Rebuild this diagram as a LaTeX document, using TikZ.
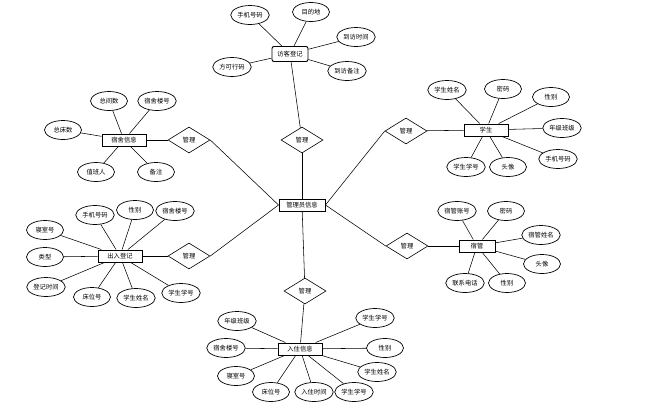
\documentclass[tikz,border=0pt]{standalone}
\usepackage{fontspec}
\setmainfont{Noto Sans CJK SC}
\usetikzlibrary{shapes.geometric}

\begin{document}
\begin{tikzpicture}[
            x = 1pt, y = -1pt, % pixel grid, y downwards
            font = \fontsize{6.3}{7}\selectfont,
            line width = 0.55pt % line style
        ]

        \tikzstyle{entity}=[
            draw = black,
            line width = 0.95pt,
            fill = white,
            minimum width = 44pt,
            minimum height = 12pt,
            inner sep = 1pt
        ]
        \tikzstyle{attr}=[
            ellipse,
            draw = black,
            line width = 0.7pt,
            fill = white,
            minimum width = 37pt,
            minimum height = 19pt,
            inner sep = 1pt
        ]
        \tikzstyle{rel}=[
            diamond,
            draw = black,
            line width = 0.6pt,
            fill = white,
            aspect = 1.7,
            minimum width = 42pt,
            minimum height = 26pt,
            inner sep = 0pt
        ]

    \useasboundingbox (0,0) rectangle (649,408);

	% centre
	\node[entity, minimum width = 46pt] (admin) at (302,205) {管理员信息};
	\node[rel] (r1) at (302,140) {管理};
	\node[rel] (r2) at (189,140) {管理};
	\node[rel] (r3) at (189,256) {管理};
	\node[rel] (r4) at (305,291) {管理};
	\node[rel] (r5) at (406,131) {管理};
	\node[rel] (r6) at (407,246) {管理};

	% visitors
	\node[entity, rounded corners = 2pt, minimum width = 36pt, minimum height = 15pt] (visit) at (290,54) {访客登记};
	\node[attr] (v1) at (250,15) {手机号码};
	\node[attr] (v2) at (311,12) {目的地};
	\node[attr] (v3) at (356,37) {到访时间};
	\node[attr] (v4) at (347,71) {到访备注};
	\node[attr] (v5) at (232,67) {方可行码};

	% dorm info
	\node[entity] (dorm) at (124,140) {宿舍信息};
	\node[attr] (d1) at (109,101) {总间数};
	\node[attr] (d2) at (157,101) {宿舍楼号};
	\node[attr] (d3) at (63,130) {总床数};
	\node[attr] (d4) at (96,172) {值班人};
	\node[attr] (d5) at (156,172) {备注};

	% in/out register
	\node[entity] (inout) at (120,256) {出入登记};
	\node[attr] (o1) at (95,215) {手机号码};
	\node[attr] (o2) at (135,210) {性别};
	\node[attr] (o3) at (175,211) {宿舍楼号};
	\node[attr] (o4) at (45,230) {寝室号};
	\node[attr] (o5) at (45,257) {类型};
	\node[attr] (o6) at (46,287) {登记时间};
	\node[attr] (o7) at (92,297) {床位号};
	\node[attr] (o8) at (136,298) {学生姓名};
	\node[attr] (o9) at (181,293) {学生学号};

	% check-in
	\node[entity] (stay) at (300,349) {入住信息};
	\node[attr] (c1) at (237,321) {年级班级};
	\node[attr] (c2) at (226,348) {宿舍楼号};
	\node[attr] (c3) at (236,376) {寝室号};
	\node[attr] (c4) at (271,392) {床位号};
	\node[attr] (c5) at (314,392) {入住时间};
	\node[attr] (c6) at (354,392) {学生学号};
	\node[attr] (c7) at (375,318) {学生学号};
	\node[attr] (c8) at (385,348) {性别};
	\node[attr] (c9) at (377,372) {学生姓名};

	% student
	\node[entity] (stu) at (486,130) {学生};
	\node[attr] (s1) at (447,90) {学生姓名};
	\node[attr] (s2) at (503,89) {密码};
	\node[attr] (s3) at (551,97) {性别};
	\node[attr] (s4) at (562,128) {年级班级};
	\node[attr] (s5) at (558,159) {手机号码};
	\node[attr] (s6) at (466,167) {学生学号};
	\node[attr] (s7) at (508,167) {头像};

	% dorm keeper
	\node[entity, minimum width = 36pt] (keep) at (477,246) {宿管};
	\node[attr] (k1) at (457,211) {宿管账号};
	\node[attr] (k2) at (506,211) {密码};
	\node[attr] (k3) at (541,235) {宿管姓名};
	\node[attr] (k4) at (542,264) {头像};
	\node[attr] (k5) at (465,283) {联系电话};
	\node[attr] (k6) at (507,283) {性别};

	% relations
	\path (admin) edge (r1) (r1) edge (visit);
	\path (admin.west) edge (r2.east) (r2) edge (dorm);
	\path (admin.west) edge (r3.east) (r3) edge (inout);
	\path (admin) edge (r4) (r4) edge (stay);
	\path (admin.east) edge (r5.west) (r5) edge (stu);
	\path (admin.east) edge (r6.west) (r6) edge (keep);

	% attributes
	\foreach \a in {v1,v2,v3,v4,v5} \path (visit) edge (\a);
	\foreach \a in {d1,d2,d3,d4,d5} \path (dorm) edge (\a);
	\foreach \a in {o1,o2,o3,o4,o5,o6,o7,o8,o9} \path (inout) edge (\a);
	\foreach \a in {c1,c2,c3,c4,c5,c6,c7,c8,c9} \path (stay) edge (\a);
	\foreach \a in {s1,s2,s3,s4,s5,s6,s7} \path (stu) edge (\a);
	\foreach \a in {k1,k2,k3,k4,k5,k6} \path (keep) edge (\a);

    \end{tikzpicture}
\end{document}
